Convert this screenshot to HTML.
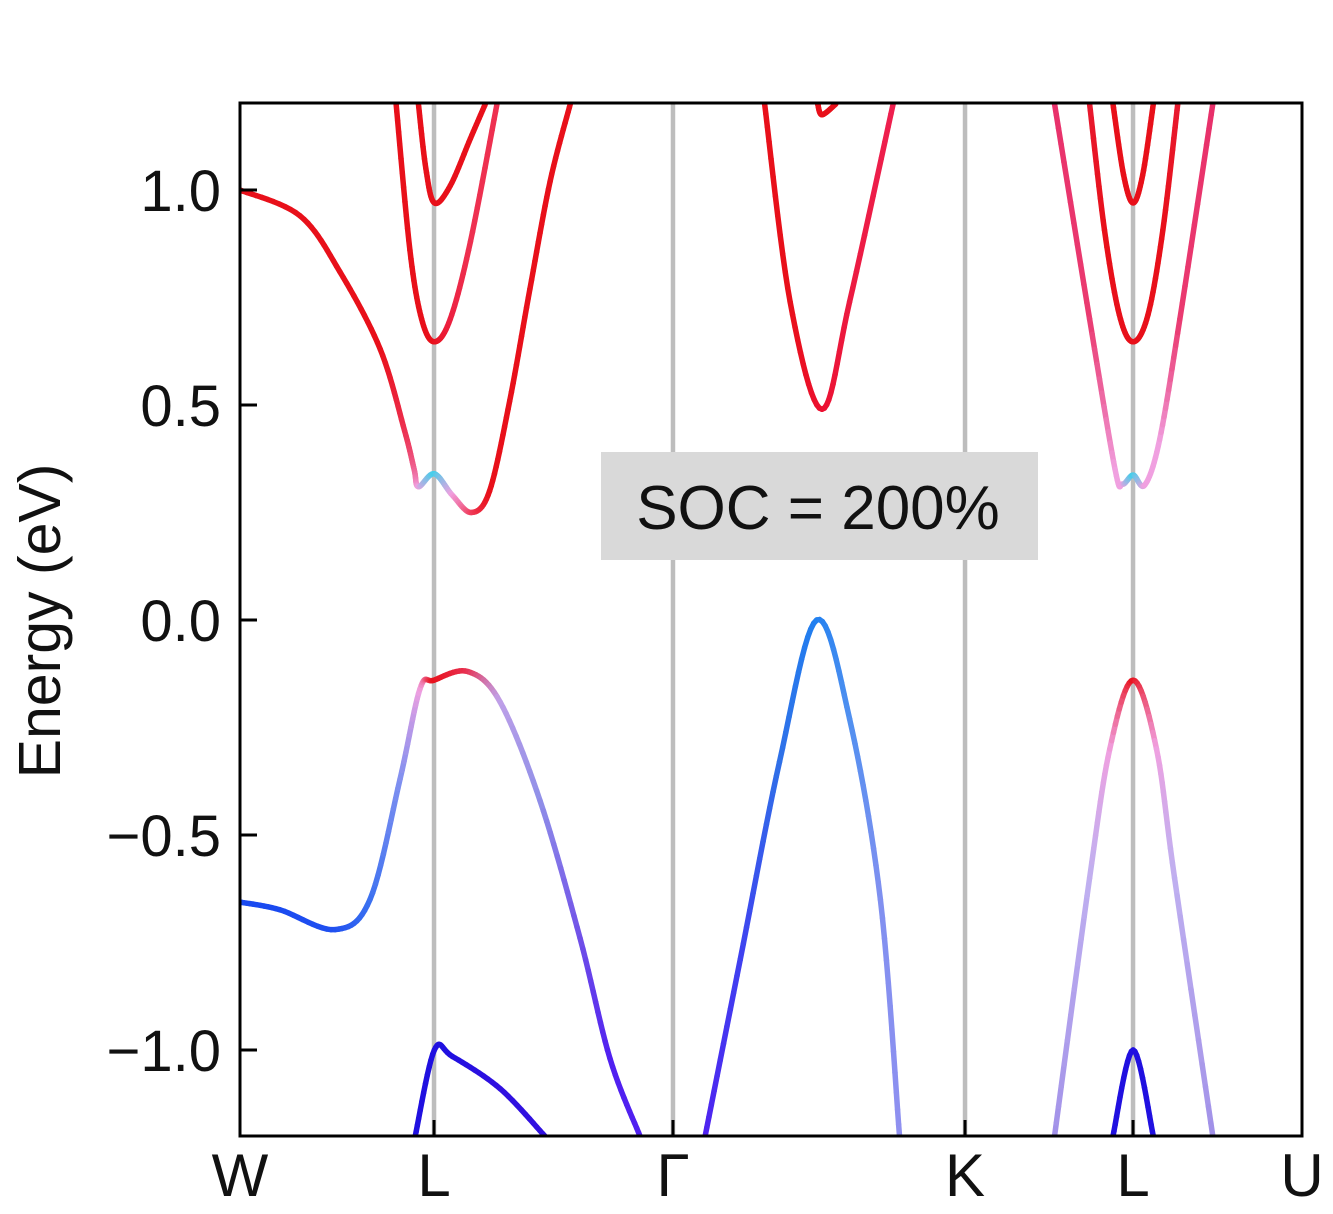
<!DOCTYPE html>
<html><head><meta charset="utf-8"><style>
body{margin:0;background:#fff}
svg text{font-family:"Liberation Sans",Arial,sans-serif}
</style></head><body>
<svg id="chart" width="1333" height="1209" xmlns="http://www.w3.org/2000/svg">
<defs><clipPath id="clip"><rect x="240" y="103" width="1062" height="1033"/></clipPath></defs>
<g id="grid"></g>
<g id="bands" clip-path="url(#clip)"></g>
<rect x="601" y="452" width="437" height="108" fill="#d9d9d9"/>
<text x="818" y="529" font-size="62" text-anchor="middle" fill="#111">SOC = 200%</text>
<rect x="240" y="103" width="1062" height="1033" fill="none" stroke="#000" stroke-width="3"/>
<g id="axes"></g>
<text transform="translate(60,621) rotate(-90)" font-size="59" text-anchor="middle" fill="#111">Energy (eV)</text>
</svg>
<script>
const kTicks=[0,0.1827,0.4077,0.6827,0.8409,1];
const kLabels=["W","L","Γ","K","L","U"];
const yTicks=[1.0,0.5,0.0,-0.5,-1.0];
const yLabels=["1.0","0.5","0.0","\u22120.5","\u22121.0"];
const R="#e8101a",PK="#f0a0e0",CY="#40d0ea",BL="#1a4af0";
const band1K=[0,.0565,.094,.132,.155,.164,.168,.183,.200,.218,.235,.254,.273,.292,.311];
const band1E=[1.0,.94,.81,.63,.44,.35,.31,.34,.29,.25,.30,.51,.77,1.02,1.2];
const band1C=[R,R,R,R,"#ec3050","#ee6090",PK,CY,PK,"#f04060",R,R,R,R,R];
const band2K=[.147,.160,.171,.183,.198,.217,.242];
const band2E=[1.2,.86,.70,.647,.70,.88,1.2];
const band2C=[R,R,R,R,"#ec2040","#ee3050","#ee3050"];
const band3K=[.168,.175,.183,.198,.217,.231];
const band3E=[1.2,1.05,.97,1.01,1.12,1.2];
const band3C=[R,R,R,R,R,R];
const band4K=[0,.0377,.0895,.1224,.1507,.1695,.1827,.2147,.2448,.2825,.3202,.3484,.3766];
const band4E=[-.656,-.674,-.72,-.65,-.37,-.16,-.14,-.12,-.19,-.42,-.74,-1.02,-1.2];
const band4C=[BL,BL,"#2050f0","#3a70f0","#8090f0",PK,R,"#e83050","#c0a0e8","#9090e8","#7050e8","#5020f0","#5020f0"];
const band5K=[.165,.183,.200,.245,.287];
const band5E=[-1.2,-1.0,-1.015,-1.09,-1.2];
const band5C=["#2010e0","#2010e0","#2010e0","#3010e0","#3010e0"];
const band6K=[.438,.471,.508,.543,.574,.603,.621];
const band6E=[-1.2,-.79,-.33,0,-.23,-.65,-1.2];
const band6C=["#5020f0","#4040f0","#3070e8","#2080f0","#5090f0","#8090f0","#9090f0"];
const band7K=[.494,.518,.548,.574,.615];
const band7E=[1.2,.74,.49,.74,1.2];
const band7C=[R,R,"#ec1030","#ec1a40","#ee2050"];
const band8K=[.544,.548,.561];
const band8E=[1.2,1.175,1.2];
const band8C=[R,R,R];
const band9K=[.767,.800,.819,.841,.863,.880,.916];
const band9E=[-1.2,-.60,-.30,-.14,-.30,-.60,-1.2];
const band9C=["#a090e8","#c0b0f0",PK,R,PK,"#c0b0f0","#a090e8"];
const band10K=[.822,.841,.860];
const band10E=[-1.2,-1.0,-1.2];
const band10C=["#2010e0","#2010e0","#2010e0"];
const band11K=[.767,.800,.824,.831,.841,.852,.866,.885,.916];
const band11E=[1.2,.70,.35,.316,.337,.314,.42,.70,1.2];
const band11C=["#e8306a","#ea3a70",PK,PK,CY,PK,PK,"#ea3a70","#e8306a"];
const band12K=[.800,.814,.828,.841,.855,.869,.883];
const band12E=[1.2,.907,.71,.647,.71,.907,1.2];
const band12C=["#e81a30",R,R,R,R,R,"#e81a30"];
const band13K=[.822,.832,.841,.850,.860];
const band13E=[1.2,1.035,.97,1.035,1.2];
const band13C=[R,R,R,R,R];
const bands=[[band1K,band1E,band1C],[band2K,band2E,band2C],[band3K,band3E,band3C],[band4K,band4E,band4C],[band5K,band5E,band5C],[band6K,band6E,band6C],[band7K,band7E,band7C],[band8K,band8E,band8C],[band9K,band9E,band9C],[band10K,band10E,band10C],[band11K,band11E,band11C],[band12K,band12E,band12C],[band13K,band13E,band13C]];

const X=k=>240+k*1062, Y=e=>620-e*430;
const NS="http://www.w3.org/2000/svg";
function mk(t,a,p){const e=document.createElementNS(NS,t);for(const k in a)e.setAttribute(k,a[k]);p.appendChild(e);return e;}
function hex(c){return [1,3,5].map(i=>parseInt(c.substr(i,2),16));}
function mix(a,b,t){const A=hex(a),B=hex(b);return "rgb("+A.map((v,i)=>Math.round(v+(B[i]-v)*t)).join(",")+")";}
const grid=document.getElementById('grid'),axes=document.getElementById('axes'),bg=document.getElementById('bands');
kTicks.forEach((k,i)=>{
 if(i>0&&i<kTicks.length-1){const l=mk('line',{x1:X(k),x2:X(k),y1:103,y2:1136,stroke:"#bdbdbd","stroke-width":4.5},grid);
 
 }
 const t=mk('line',{x1:X(k),x2:X(k),y1:1136,y2:1120,stroke:"#000","stroke-width":3},axes);
 
 
 const tx=mk('text',{x:X(k),y:1196,"font-size":60,"text-anchor":"middle",fill:"#111"},axes);tx.textContent=kLabels[i];
 
 
});
yTicks.forEach((v,i)=>{
 const t=mk('line',{x1:240,x2:257,y1:Y(v),y2:Y(v),stroke:"#000","stroke-width":3},axes);
 
 
 const tx=mk('text',{x:221,y:Y(v)+21,"font-size":58,"text-anchor":"end",fill:"#111"},axes);tx.textContent=yLabels[i];
 
 
});
bands.forEach(([K,E,C])=>{
 const g=mk('g',{},bg);
 
 
 const P=K.map((k,i)=>[X(k),Y(E[i])]);
 const n=P.length;
 for(let i=0;i<n-1;i++){
  const p0=P[Math.max(i-1,0)],p1=P[i],p2=P[i+1],p3=P[Math.min(i+2,n-1)];
  const S=12;let prev=p1;
  for(let s=1;s<=S;s++){
   const t=s/S,t2=t*t,t3=t2*t;
   const f=j=>0.5*((2*p1[j])+(-p0[j]+p2[j])*t+(2*p0[j]-5*p1[j]+4*p2[j]-p3[j])*t2+(-p0[j]+3*p1[j]-3*p2[j]+p3[j])*t3);
   const q=[f(0),f(1)];
   mk('line',{x1:prev[0],y1:prev[1],x2:q[0],y2:q[1],stroke:mix(C[i],C[i+1],(s-0.5)/S),"stroke-width":5.5,"stroke-linecap":"round"},g);
   prev=q;
  }
 }
});
</script>
</body></html>
